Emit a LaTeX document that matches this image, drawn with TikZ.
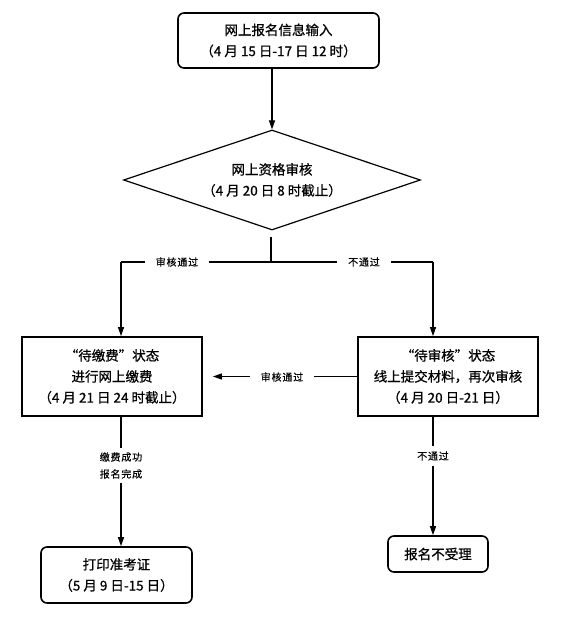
\documentclass[tikz,border=0pt]{standalone}
\usepackage{fontspec}
\setmainfont{Noto Sans CJK SC}[FakeBold=0.7]
\newfontfamily\lblfont{Noto Sans CJK SC}[FakeBold=0.4, LetterSpace=8]
\usetikzlibrary{shapes.geometric,arrows.meta}
\begin{document}
\begin{tikzpicture}[x=1pt,y=-1pt,
  txt/.style={font=\fontsize{13.5}{21}\selectfont, align=center, inner sep=0pt},
  rbox/.style={txt, draw, line width=1.6pt, rounded corners=6pt},
  sbox/.style={txt, draw, line width=1.8pt, minimum width=180pt, minimum height=79pt},
  dia/.style={txt, draw, line width=1.2pt, diamond, aspect=2.97, minimum width=297pt, minimum height=100pt},
  conn/.style={line width=1.1pt},
  arr/.style={conn, -{Triangle[length=9pt,width=6pt]}},
  lbl/.style={font=\lblfont\fontsize{10}{17}\selectfont, align=center, fill=white, inner xsep=11pt, inner ysep=4pt}
]
\useasboundingbox (0,0) rectangle (560,617);
\fill[white] (0,0) rectangle (560,617);

\node[rbox, minimum width=201pt, minimum height=55pt] (top) at (278.5,40.5) {网上报名信息输入\\（4 月 15 日-17 日 12 时）};
\node[dia] (chk) at (272,180) {网上资格审核\\（4 月 20 日 8 时截止）};
\node[sbox] (pay) at (112,376.5) {“待缴费”状态\\进行网上缴费\\（4 月 21 日 24 时截止）};
\node[sbox] (rev) at (448,376.5) {“待审核”状态\\线上提交材料，再次审核\\（4 月 20 日-21 日）};
\node[rbox, minimum width=151pt, minimum height=56pt] (print) at (116.5,575) {打印准考证\\（5 月 9 日-15 日）};
\node[rbox, minimum width=100pt, minimum height=36pt] (rej) at (438,554) {报名不受理};

\coordinate (jt) at (271,237);
\coordinate (jm) at (271,262);
\coordinate (jl) at (121,262);
\coordinate (jr) at (433,262);

\draw[arr] (top.south -| chk.north) -- (chk.north);
\draw[conn] (jt) -- (jm);
\draw[conn] (jl) -- (jr);
\node[lbl] (l1) at (177,262) {审核通过};
\node[lbl] (l2) at (364,262) {不通过};
\draw[arr] (jl) -- (jl |- pay.north);
\draw[arr] (jr) -- (jr |- rev.north);

\draw[arr] (rev.west) -- ([xshift=10pt]pay.east);
\node[lbl] (l3) at (282,377) {审核通过};

\draw[arr] (jl |- pay.south) -- (jl |- print.north);
\node[lbl, inner xsep=4pt] (l4) at (121,465.5) {缴费成功\\报名完成};

\draw[arr] (jr |- rev.south) -- (jr |- rej.north);
\node[lbl, inner xsep=4pt, inner ysep=5pt] (l5) at (433,456) {不通过};
\end{tikzpicture}
\end{document}
